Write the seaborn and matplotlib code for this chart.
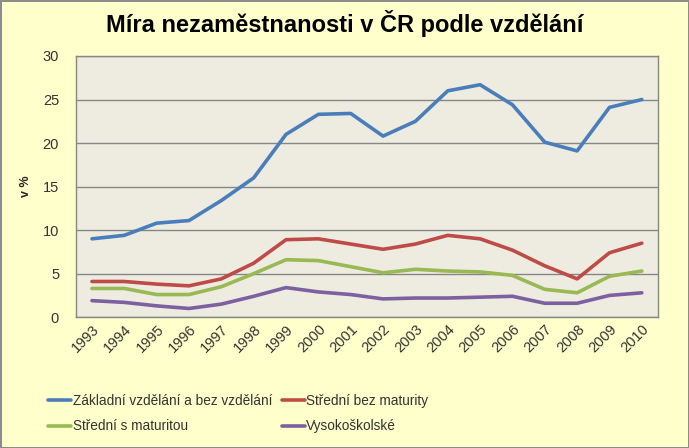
import matplotlib
matplotlib.use("Agg")
import matplotlib.pyplot as plt
import seaborn as sns
import pandas as pd

# Data
years = [str(y) for y in range(1993, 2011)]
zakladni = [9.0, 9.4, 10.8, 11.1, 13.4, 16.0, 21.0, 23.3, 23.4, 20.8, 22.5, 26.0, 26.7, 24.4, 20.1, 19.1, 24.1, 25.0]
stredni_bez = [4.1, 4.1, 3.8, 3.6, 4.4, 6.2, 8.9, 9.0, 8.4, 7.8, 8.4, 9.4, 9.0, 7.7, 5.9, 4.4, 7.4, 8.5]
stredni_s = [3.3, 3.3, 2.6, 2.6, 3.5, 5.0, 6.6, 6.5, 5.8, 5.1, 5.5, 5.3, 5.2, 4.8, 3.2, 2.8, 4.7, 5.3]
vysoko = [1.9, 1.7, 1.3, 1.0, 1.5, 2.4, 3.4, 2.9, 2.6, 2.1, 2.2, 2.2, 2.3, 2.4, 1.6, 1.6, 2.5, 2.8]
series_names = ['Základní vzdělání a bez vzdělání', 'Střední bez maturity',
                'Střední s maturitou', 'Vysokoškolské']
colors = ['#4A7EBB', '#BE4B48', '#98B954', '#7D60A0']

df = pd.DataFrame({'rok': years * 4,
                   'hodnota': zakladni + stredni_bez + stredni_s + vysoko,
                   'serie': sum([[n] * len(years) for n in series_names], [])})

sns.set_style('white')
plt.rcParams['font.family'] = ['Liberation Sans', 'DejaVu Sans']

fig = plt.figure(figsize=(6.89, 4.48), dpi=100, facecolor='#FFFFCC',
                 edgecolor='#8C8C8C', linewidth=2)
ax = fig.add_axes([0.110, 0.292, 0.845, 0.583])
ax.set_facecolor('#EEECE1')

sns.lineplot(data=df, x='rok', y='hodnota', hue='serie', hue_order=series_names,
             palette=colors, linewidth=2.6, ax=ax, sort=False)

ax.set_xlim(-0.5, 17.5)
ax.set_ylim(0, 30)
ax.set_yticks(range(0, 31, 5))
ax.grid(axis='y', color='#868686', linewidth=1)
ax.set_axisbelow(True)
for s in ax.spines.values():
    s.set_color('#868686')
    s.set_linewidth(1)
ax.tick_params(axis='both', length=0, labelsize=10.5, colors='#333333')
ax.tick_params(axis='y', pad=12)
plt.setp(ax.get_xticklabels(), rotation=45, ha='right', rotation_mode='anchor')
ax.set_xlabel('')
ax.set_ylabel('v %', fontsize=9, fontweight='bold', labelpad=8)

fig.suptitle('Míra nezaměstnanosti v ČR podle vzdělání', fontsize=17,
             fontweight='bold', y=0.978, color='black')

handles, labels = ax.get_legend_handles_labels()
ax.get_legend().remove()
order = [0, 2, 1, 3]
leg = fig.legend([handles[i] for i in order], [labels[i] for i in order],
                 ncol=2, loc='upper left', bbox_to_anchor=(0.06, 0.136),
                 frameon=False, fontsize=9.8, handlelength=1.7, handletextpad=0.1,
                 columnspacing=0.7, labelspacing=0.85, borderpad=0)
for t in leg.get_texts():
    t.set_color('#333333')

fig.savefig('out.png', dpi=100, facecolor=fig.get_facecolor(),
            edgecolor=fig.get_edgecolor())
